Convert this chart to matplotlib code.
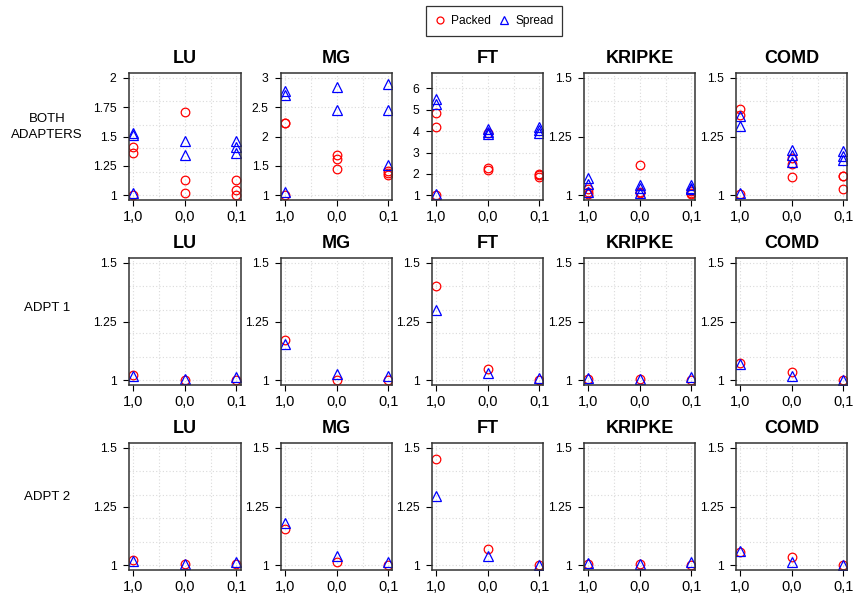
import matplotlib
matplotlib.use("Agg")
import matplotlib.pyplot as plt
from matplotlib.lines import Line2D

plt.rcParams['font.family'] = ['Liberation Sans', 'DejaVu Sans']

benchmarks = ["LU", "MG", "FT", "KRIPKE", "COMD"]
configs = ["1,0", "0,0", "0,1"]
row_labels = ["BOTH\nADAPTERS", "ADPT 1", "ADPT 2"]

# Row 1 (both adapters): several runs per configuration
both_packed = {
    "LU":     [[1.41, 1.36, 1.005], [1.71, 1.13, 1.017], [1.13, 1.045, 1.005]],
    "MG":     [[2.235, 2.225, 1.012], [1.68, 1.62, 1.455], [1.42, 1.38, 1.34]],
    "FT":     [[4.85, 4.2, 1.0], [3.9, 2.27, 2.18], [2.0, 1.93, 1.86]],
    "KRIPKE": [[1.025, 1.014, 1.004], [1.13, 1.015, 1.008], [1.018, 1.01, 1.004]],
    "COMD":   [[1.366, 1.342, 1.004], [1.159, 1.131, 1.079], [1.084, 1.081, 1.025]],
}
both_spread = {
    "LU":     [[1.53, 1.51, 1.02], [1.462, 1.345], [1.46, 1.41, 1.36]],
    "MG":     [[2.78, 2.70, 1.055], [2.85, 2.45], [2.89, 2.45, 1.51]],
    "FT":     [[5.5, 5.28, 1.08], [4.08, 3.95, 3.85], [4.2, 4.05, 3.92]],
    "KRIPKE": [[1.075, 1.046, 1.012], [1.042, 1.03, 1.01], [1.044, 1.033, 1.025]],
    "COMD":   [[1.338, 1.293, 1.008], [1.194, 1.173, 1.14], [1.187, 1.166, 1.149]],
}
# Row 2 (adapter 1)
adpt1_packed = {
    "LU": [1.024, 1.0, 1.003], "MG": [1.17, 1.003, 1.0], "FT": [1.40, 1.047, 1.0],
    "KRIPKE": [1.004, 1.004, 1.0], "COMD": [1.074, 1.036, 1.003],
}
adpt1_spread = {
    "LU": [1.02, 1.007, 1.014], "MG": [1.156, 1.028, 1.02], "FT": [1.30, 1.031, 1.008],
    "KRIPKE": [1.01, 1.004, 1.014], "COMD": [1.068, 1.018, 1.003],
}
# Row 3 (adapter 2)
adpt2_packed = {
    "LU": [1.022, 1.004, 1.004], "MG": [1.153, 1.015, 1.0], "FT": [1.452, 1.068, 1.003],
    "KRIPKE": [1.004, 1.005, 1.003], "COMD": [1.058, 1.035, 1.003],
}
adpt2_spread = {
    "LU": [1.018, 1.005, 1.015], "MG": [1.178, 1.041, 1.014], "FT": [1.294, 1.041, 1.003],
    "KRIPKE": [1.008, 1.004, 1.014], "COMD": [1.062, 1.015, 1.003],
}

# y ranges, ticks, grid for each panel
top_ylim = {"LU": (1, 2), "MG": (1, 3), "FT": (1, 6.5), "KRIPKE": (1, 1.5), "COMD": (1, 1.5)}
top_yticks = {
    "LU": ([1, 1.25, 1.5, 1.75, 2], ["1", "1.25", "1.5", "1.75", "2"]),
    "MG": ([1, 1.5, 2, 2.5, 3], ["1", "1.5", "2", "2.5", "3"]),
    "FT": ([1, 2, 3, 4, 5, 6], ["1", "2", "3", "4", "5", "6"]),
    "KRIPKE": ([1, 1.25, 1.5], ["1", "1.25", "1.5"]),
    "COMD": ([1, 1.25, 1.5], ["1", "1.25", "1.5"]),
}
top_ygrid = {
    "LU": [1, 1.2, 1.4, 1.6, 1.8, 2],
    "MG": [1, 1.5, 2, 2.5, 3],
    "FT": [1, 2, 3, 4, 5, 6],
    "KRIPKE": [1, 1.1, 1.2, 1.3, 1.4, 1.5],
    "COMD": [1, 1.1, 1.2, 1.3, 1.4, 1.5],
}
low_ylim = (1, 1.5)
low_yticks = ([1, 1.25, 1.5], ["1", "1.25", "1.5"])
low_ygrid = [1, 1.1, 1.2, 1.3, 1.4, 1.5]
xgrid = [0, 0.5, 1, 1.5, 2]

W, H = 854, 598
fig = plt.figure(figsize=(W / 100, H / 100), dpi=100)

col_left = [129, 281, 432, 584, 736]
row_top = [73, 258, 443]
pw, ph = 111.5, 127

PACK = dict(marker='o', mfc='none', mec='#ff0000', ms=6.2, mew=0.9, ls='none')
SPRD = dict(marker='^', mfc='none', mec='#0000ff', ms=6.8, mew=0.9, ls='none')


def pad(lo, hi):
    r = hi - lo
    return lo - 0.04 * r, hi + 0.04 * r


for r in range(3):
    for c, b in enumerate(benchmarks):
        ax = fig.add_axes([col_left[c] / W, 1 - (row_top[r] + ph) / H, pw / W, ph / H])
        if r == 0:
            ylim = top_ylim[b]
            yt, ytl = top_yticks[b]
            yg = top_ygrid[b]
            for xi in range(3):
                ax.plot([xi] * len(both_packed[b][xi]), both_packed[b][xi], **PACK)
                ax.plot([xi] * len(both_spread[b][xi]), both_spread[b][xi], **SPRD)
        else:
            ylim = low_ylim
            yt, ytl = low_yticks
            yg = low_ygrid
            pk = adpt1_packed if r == 1 else adpt2_packed
            sp = adpt1_spread if r == 1 else adpt2_spread
            ax.plot(range(3), pk[b], **PACK)
            ax.plot(range(3), sp[b], **SPRD)
        ax.set_xlim(pad(0, 2))
        ax.set_ylim(pad(*ylim))
        for g in yg:
            ax.axhline(g, color='#dadada', lw=0.8, ls=(0, (1, 2)), zorder=0)
        for g in xgrid:
            ax.axvline(g, color='#dadada', lw=0.8, ls=(0, (1, 2)), zorder=0)
        ax.set_xticks(range(3))
        ax.set_xticklabels(configs, fontsize=10.5)
        ax.set_yticks(yt)
        ax.set_yticklabels(ytl, fontsize=8.7)
        ax.tick_params(axis='both', length=4, width=0.8, color='black', direction='out')
        ax.tick_params(axis='x', pad=3)
        ax.tick_params(axis='y', pad=5)
        for s in ax.spines.values():
            s.set_color('#333333')
            s.set_linewidth(1.1)
        ax.set_title(b, fontsize=13, fontweight='bold', pad=7)

# Row labels
label_y = [127, 308, 497]
for r in range(3):
    fig.text(47 / W, 1 - label_y[r] / H, row_labels[r], ha='center', va='center',
             fontsize=9.5, linespacing=1.45)

handles = [Line2D([], [], marker='o', mfc='none', mec='#ff0000', ms=5, mew=0.9, ls='none'),
           Line2D([], [], marker='^', mfc='none', mec='#0000ff', ms=5.5, mew=0.9, ls='none')]
leg = fig.legend(handles, ["Packed", "Spread"], loc='center', bbox_to_anchor=(494 / W, 1 - 21 / H),
                 ncol=2, fontsize=8.6, frameon=True, fancybox=False, edgecolor='black',
                 handlelength=0.9, handletextpad=0.5, columnspacing=0.6, borderpad=0.75,
                 borderaxespad=0)
leg.get_frame().set_linewidth(0.9)

fig.savefig("out.png", dpi=100)
